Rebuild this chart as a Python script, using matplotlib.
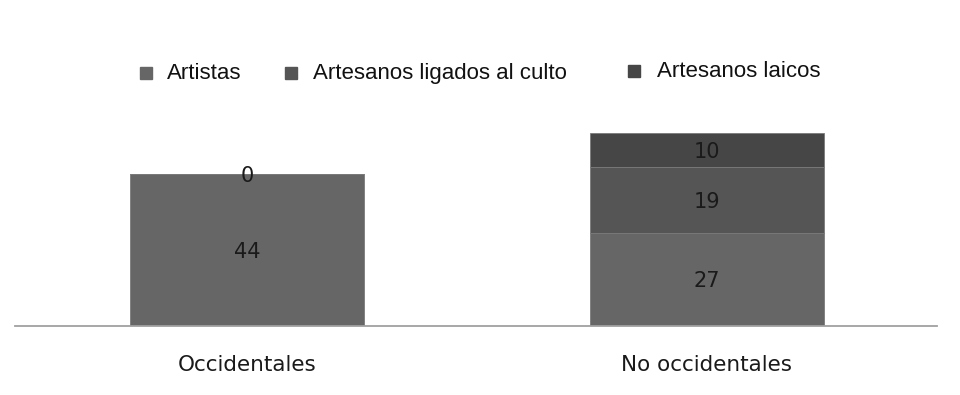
import numpy as np
import matplotlib.pyplot as plt
from matplotlib.patches import Rectangle

# Datos
categorias = ['Occidentales', 'No occidentales']
series = ['Artistas', 'Artesanos ligados al culto', 'Artesanos laicos']
artistas = [44, 27]
culto = [0, 19]
laicos = [np.nan, 10]
colores = ['#666666', '#555555', '#464646']

fig = plt.figure(figsize=(9.6, 3.95), dpi=100)
ax = fig.add_axes([0.0156, 0.1747, 0.9604, 0.5722])

x = np.arange(len(categorias))
ancho = 0.509
base = np.zeros(len(categorias))
for valores, color in zip([artistas, culto, laicos], colores):
    v = np.nan_to_num(np.array(valores, dtype=float))
    ax.bar(x, v, ancho, bottom=base, color=color, edgecolor='#7a7a7a', linewidth=0.6)
    for xi, b, val in zip(x, base, valores):
        if not np.isnan(val):
            ax.text(xi, b + val / 2 - 0.5, f'{int(val)}', ha='center', va='center',
                    fontsize=15, family='DejaVu Sans', color='#1a1a1a')
    base = base + v

ax.set_xlim(-0.504, 1.5)
ax.set_ylim(0, 65.5)
ax.set_yticks([])
ax.set_xticks(x)
ax.set_xticklabels(categorias, fontsize=15.5, family='DejaVu Sans', color='#1a1a1a')
ax.tick_params(axis='x', length=0, pad=21)
for lado in ['top', 'right', 'left']:
    ax.spines[lado].set_visible(False)
ax.spines['bottom'].set_color('#a0a0a0')
ax.spines['bottom'].set_linewidth(1.3)

# Leyenda
pos_leyenda = [(0.146, 0.174), (0.297, 0.326), (0.654, 0.684)]
alto_leyenda = [0.815, 0.815, 0.82]
for (xm, xt), yl, nombre, color in zip(pos_leyenda, alto_leyenda, series, colores):
    fig.patches.append(Rectangle((xm, yl - 0.014), 0.0125, 0.030, color=color,
                                 transform=fig.transFigure, figure=fig))
    fig.text(xt, yl, nombre, ha='left', va='center', fontsize=16,
             family='Liberation Sans', color='#111111')

fig.savefig('out.png', dpi=100)
